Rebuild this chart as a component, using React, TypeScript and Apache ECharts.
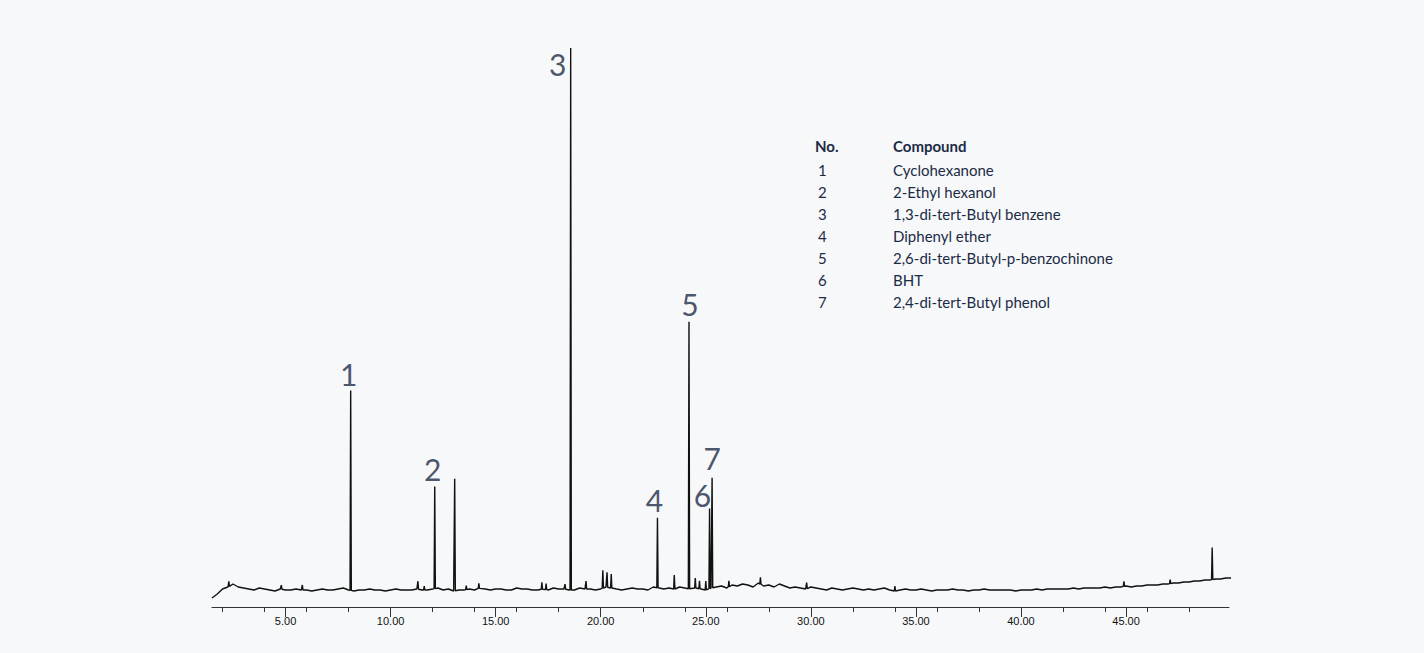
import React, { useEffect, useRef } from "react";
import * as echarts from "echarts";

// baseline drift (intensity above 0) sampled every 0.25 min from 1.5
const baseStart = 1.5;
const baseStep = 0.25;
const baseline = [
  -8, -4, 1, 3, 6, 3, 2, 1, 0, 2, 1, 0, -1, 1, 0, 0, 1, 0, 0, -1,
  0, 1, 0, 0, 1, 2, 0, -1, 0, 0, 1, 0, 0, -1, 0, 1, 0, 0, 0, 1,
  0, 0, 1, 2, 0, 1, -1, 0, 0, 1, 0, 2, 1, 0, 1, 1, 0, 0, 2, 1,
  1, 0, 0, 1, 0, 2, 1, 1, 0, 0, 2, 1, 1, 0, 1, 3, 2, 1, 0, 1,
  2, 1, 1, 0, 3, 2, 1, 2, 1, 3, 2, 1, 2, 1, 0, 2, 3, 4, 2, 5,
  4, 6, 5, 3, 7, 4, 5, 3, 6, 4, 2, 3, 2, 1, 3, 2, 1, 0, 2, 1,
  0, 1, 2, 1, 0, 1, 0, 1, 2, 0, -1, 0, 1, 0, 0, 1, 0, -1, 0, 0,
  0, 1, 0, 0, -1, 0, 0, 1, 0, 0, 0, 0, 0, -1, 0, 0, 0, 1, 0, 1,
  1, 1, 1, 1, 2, 1, 2, 2, 2, 2, 3, 2, 3, 3, 4, 3, 4, 4, 5, 5,
  5, 6, 6, 7, 7, 8, 8, 9, 9, 10, 10, 11, 11, 12, 12,
];

// peaks: retention time, height above baseline
const peakTimes = [
  8.1, 12.1, 13.05, 18.57, 22.7, 24.2, 25.18, 25.3, 49.1,
  2.3, 4.8, 5.8, 11.3, 11.6, 13.6, 14.2, 17.2, 17.4, 18.3, 19.3,
  20.1, 20.3, 20.5, 23.5, 24.5, 24.7, 25.0, 26.1, 27.6, 29.8, 34.0, 44.9, 47.1,
];
const peakHeights = [
  200, 102, 112, 542, 70, 267, 80, 110, 32,
  5, 4, 5, 8, 4, 4, 5, 7, 6, 5, 8,
  18, 15, 14, 14, 10, 8, 9, 6, 7, 6, 5, 5, 4,
];

const peakLabels = ["1", "2", "3", "4", "5", "6", "7"];
const labelTimes = [8.1, 12.1, 18.57, 22.7, 24.2, 25.18, 25.3];
const labelHeights = [200, 102, 500, 70, 267, 80, 110];
const labelOffsets = [[-2, 4], [-2, 2], [-13, -6], [-3, 2], [1, 2], [-7, 6], [0, 0]];

const compoundNos = ["1", "2", "3", "4", "5", "6", "7"];
const compoundNames = [
  "Cyclohexanone",
  "2-Ethyl hexanol",
  "1,3-di-tert-Butyl benzene",
  "Diphenyl ether",
  "2,6-di-tert-Butyl-p-benzochinone",
  "BHT",
  "2,4-di-tert-Butyl phenol",
];

const baseAt = (t: number) => {
  const f = (t - baseStart) / baseStep;
  const i = Math.max(0, Math.min(baseline.length - 2, Math.floor(f)));
  const r = Math.min(1, Math.max(0, f - i));
  return baseline[i] * (1 - r) + baseline[i + 1] * r;
};

const App: React.FC = () => {
  const ref = useRef<HTMLDivElement>(null);

  useEffect(() => {
    if (!ref.current) return;
    document.body.style.margin = "0";
    const chart = echarts.init(ref.current, undefined, { renderer: "svg" });

    const pts: [number, number][] = baseline.map((v, i) => [baseStart + i * baseStep, v]);
    peakTimes.forEach((t, i) => {
      const b = baseAt(t);
      pts.push([t - 0.03, b]);
      pts.push([t, b + peakHeights[i]]);
      pts.push([t + 0.03, b]);
    });
    pts.sort((a, b) => a[0] - b[0]);

    const labelData = labelTimes.map((t, i) => ({
      value: [t, baseAt(t) + labelHeights[i]],
      label: { formatter: peakLabels[i], offset: labelOffsets[i] },
    }));

    const font = "Lato, 'Noto Sans', sans-serif";
    const ink = "#1c2b45";
    const legend: any[] = [
      { type: "text", left: 815, top: 138, style: { text: "No.", font: `bold 15px ${font}`, fill: ink } },
      { type: "text", left: 893, top: 138, style: { text: "Compound", font: `bold 15px ${font}`, fill: ink } },
    ];
    compoundNos.forEach((n, i) => {
      legend.push({ type: "text", left: 818, top: 162 + i * 22, style: { text: n, font: `15px ${font}`, fill: ink } });
      legend.push({ type: "text", left: 893, top: 162 + i * 22, style: { text: compoundNames[i], font: `15px ${font}`, fill: ink } });
    });

    chart.setOption({
      animation: false,
      backgroundColor: "#f7f8fa",
      grid: { left: 212, right: 195, top: 48, bottom: 46 },
      xAxis: {
        type: "value",
        min: 1.5,
        max: 49.9,
        axisLine: { onZero: false, lineStyle: { color: "#333", width: 1 } },
        axisTick: { show: true, length: 10, lineStyle: { color: "#333" }, customValues: [5, 10, 15, 20, 25, 30, 35, 40, 45] },
        minorTick: { show: true, splitNumber: 5, length: 5, lineStyle: { color: "#333" } },
        axisLabel: {
          customValues: [5, 10, 15, 20, 25, 30, 35, 40, 45],
          formatter: (v: number) => v.toFixed(2),
          color: "#111",
          fontSize: 11,
          fontFamily: "'Liberation Sans', Arial, sans-serif",
          margin: 8,
        },
        splitLine: { show: false },
      },
      yAxis: { type: "value", min: -17, max: 542, show: false },
      graphic: legend,
      series: [
        {
          type: "line",
          data: pts,
          showSymbol: false,
          lineStyle: { color: "#111", width: 1.4 },
        },
        {
          type: "scatter",
          data: labelData,
          symbolSize: 0,
          clip: false,
          label: {
            show: true,
            position: "top",
            fontSize: 30,
            fontFamily: font,
            color: ink,
          },
        },
      ],
    });
    return () => chart.dispose();
  }, []);

  return <div ref={ref} style={{ width: 1424, height: 653 }} />;
};

export default App;
